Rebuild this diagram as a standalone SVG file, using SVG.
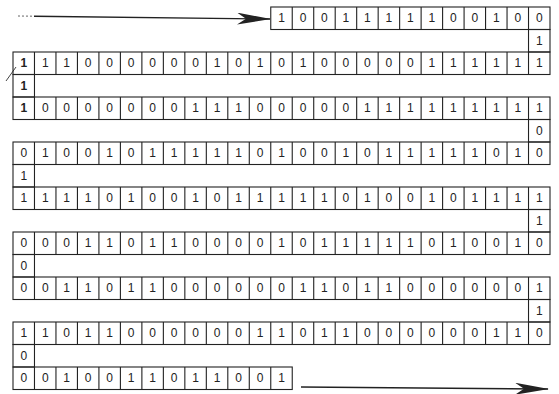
<svg xmlns="http://www.w3.org/2000/svg" xmlns:xlink="http://www.w3.org/1999/xlink" width="559" height="394" viewBox="0 0 559 394">
<style>
.cell{fill:none;stroke:#222;stroke-width:1.1}
.d{font-family:"Liberation Sans","DejaVu Sans",sans-serif;font-size:12px;fill:#222;text-anchor:middle}
.b{font-weight:bold}
.arr{fill:none;stroke:#222;stroke-width:1.4}
</style>
<defs>
<path id="div25" class="cell" d="M34.48,0V22.5M55.96,0V22.5M77.44,0V22.5M98.92,0V22.5M120.4,0V22.5M141.88,0V22.5M163.36,0V22.5M184.84,0V22.5M206.32,0V22.5M227.8,0V22.5M249.28,0V22.5M270.76,0V22.5M292.24,0V22.5M313.72,0V22.5M335.2,0V22.5M356.68,0V22.5M378.16,0V22.5M399.64,0V22.5M421.12,0V22.5M442.6,0V22.5M464.08,0V22.5M485.56,0V22.5M507.04,0V22.5M528.52,0V22.5"/>
<marker id="ah" viewBox="0 0 34 12" refX="33" refY="6" markerWidth="34" markerHeight="12" orient="auto" markerUnits="userSpaceOnUse">
<path d="M0,0 L34,6 L0,12 L9,6 Z" fill="#222"/>
</marker>
</defs>
<rect width="559" height="394" fill="#fff"/>

<g id="connectors">
<line x1="18" y1="16" x2="34" y2="16.2" stroke="#666" stroke-width="1" stroke-dasharray="2,2"/>
<line class="arr" x1="34" y1="16.2" x2="270" y2="19" marker-end="url(#ah)"/>
<line class="arr" x1="301" y1="387" x2="548" y2="389" marker-end="url(#ah)"/>
<line x1="6" y1="81" x2="16" y2="67" stroke="#444" stroke-width="1"/>
</g>

<g id="row1">
<rect class="cell" x="270.76" y="7" width="279.24" height="22.5"/>
<path class="cell" d="M292.24,7V29.5M313.72,7V29.5M335.2,7V29.5M356.68,7V29.5M378.16,7V29.5M399.64,7V29.5M421.12,7V29.5M442.6,7V29.5M464.08,7V29.5M485.56,7V29.5M507.04,7V29.5M528.52,7V29.5"/>
<text class="d" y="22.3" x="281.5 302.98 324.46 345.94 367.42 388.9 410.38 431.86 453.34 474.82 496.3 517.78 539.26">1001111100100</text>
</g>
<g id="turn1">
<rect class="cell" x="528.52" y="29.5" width="21.48" height="22.5"/>
<text class="d" x="539.26" y="44.8">1</text>
</g>

<g id="row2">
<rect class="cell" x="13" y="52" width="537" height="22.5"/>
<use xlink:href="#div25" href="#div25" y="52"/>
<text class="d" y="67.3"><tspan class="b" x="23.74">1</tspan><tspan x="45.22 66.7 88.18 109.66 131.14 152.62 174.1 195.58 217.06 238.54 260.02 281.5 302.98 324.46 345.94 367.42 388.9 410.38 431.86 453.34 474.82 496.3 517.78 539.26">110000001010100000111111</tspan></text>
</g>
<g id="turn2">
<rect class="cell" x="13" y="74.5" width="21.48" height="22.5"/>
<text class="d b" x="23.74" y="89.8">1</text>
</g>

<g id="row3">
<rect class="cell" x="13" y="97" width="537" height="22.5"/>
<use xlink:href="#div25" href="#div25" y="97"/>
<text class="d" y="112.3"><tspan class="b" x="23.74">1</tspan><tspan x="45.22 66.7 88.18 109.66 131.14 152.62 174.1 195.58 217.06 238.54 260.02 281.5 302.98 324.46 345.94 367.42 388.9 410.38 431.86 453.34 474.82 496.3 517.78 539.26">000000011100000111111111</tspan></text>
</g>
<g id="turn3">
<rect class="cell" x="528.52" y="119.5" width="21.48" height="22.5"/>
<text class="d" x="539.26" y="134.8">0</text>
</g>

<g id="row4">
<rect class="cell" x="13" y="142" width="537" height="22.5"/>
<use xlink:href="#div25" href="#div25" y="142"/>
<text class="d" y="157.3" x="23.74 45.22 66.7 88.18 109.66 131.14 152.62 174.1 195.58 217.06 238.54 260.02 281.5 302.98 324.46 345.94 367.42 388.9 410.38 431.86 453.34 474.82 496.3 517.78 539.26">0100101111101001011111010</text>
</g>
<g id="turn4">
<rect class="cell" x="13" y="164.5" width="21.48" height="22.5"/>
<text class="d" x="23.74" y="179.8">1</text>
</g>

<g id="row5">
<rect class="cell" x="13" y="187" width="537" height="22.5"/>
<use xlink:href="#div25" href="#div25" y="187"/>
<text class="d" y="202.3" x="23.74 45.22 66.7 88.18 109.66 131.14 152.62 174.1 195.58 217.06 238.54 260.02 281.5 302.98 324.46 345.94 367.42 388.9 410.38 431.86 453.34 474.82 496.3 517.78 539.26">1111010010111110100101111</text>
</g>
<g id="turn5">
<rect class="cell" x="528.52" y="209.5" width="21.48" height="22.5"/>
<text class="d" x="539.26" y="224.8">1</text>
</g>

<g id="row6">
<rect class="cell" x="13" y="232" width="537" height="22.5"/>
<use xlink:href="#div25" href="#div25" y="232"/>
<text class="d" y="247.3" x="23.74 45.22 66.7 88.18 109.66 131.14 152.62 174.1 195.58 217.06 238.54 260.02 281.5 302.98 324.46 345.94 367.42 388.9 410.38 431.86 453.34 474.82 496.3 517.78 539.26">0001101100001011111010010</text>
</g>
<g id="turn6">
<rect class="cell" x="13" y="254.5" width="21.48" height="22.5"/>
<text class="d" x="23.74" y="269.8">0</text>
</g>

<g id="row7">
<rect class="cell" x="13" y="277" width="537" height="22.5"/>
<use xlink:href="#div25" href="#div25" y="277"/>
<text class="d" y="292.3" x="23.74 45.22 66.7 88.18 109.66 131.14 152.62 174.1 195.58 217.06 238.54 260.02 281.5 302.98 324.46 345.94 367.42 388.9 410.38 431.86 453.34 474.82 496.3 517.78 539.26">0011011000000110110000001</text>
</g>
<g id="turn7">
<rect class="cell" x="528.52" y="299.5" width="21.48" height="22.5"/>
<text class="d" x="539.26" y="314.8">1</text>
</g>

<g id="row8">
<rect class="cell" x="13" y="322" width="537" height="22.5"/>
<use xlink:href="#div25" href="#div25" y="322"/>
<text class="d" y="337.3" x="23.74 45.22 66.7 88.18 109.66 131.14 152.62 174.1 195.58 217.06 238.54 260.02 281.5 302.98 324.46 345.94 367.42 388.9 410.38 431.86 453.34 474.82 496.3 517.78 539.26">1101100000011011000000110</text>
</g>
<g id="turn8">
<rect class="cell" x="13" y="344.5" width="21.48" height="22.5"/>
<text class="d" x="23.74" y="359.8">0</text>
</g>

<g id="row9">
<rect class="cell" x="13" y="367" width="279.24" height="22.5"/>
<path class="cell" d="M34.48,367V389.5M55.96,367V389.5M77.44,367V389.5M98.92,367V389.5M120.4,367V389.5M141.88,367V389.5M163.36,367V389.5M184.84,367V389.5M206.32,367V389.5M227.8,367V389.5M249.28,367V389.5M270.76,367V389.5"/>
<text class="d" y="382.3" x="23.74 45.22 66.7 88.18 109.66 131.14 152.62 174.1 195.58 217.06 238.54 260.02 281.5">0010011011001</text>
</g>
</svg>
